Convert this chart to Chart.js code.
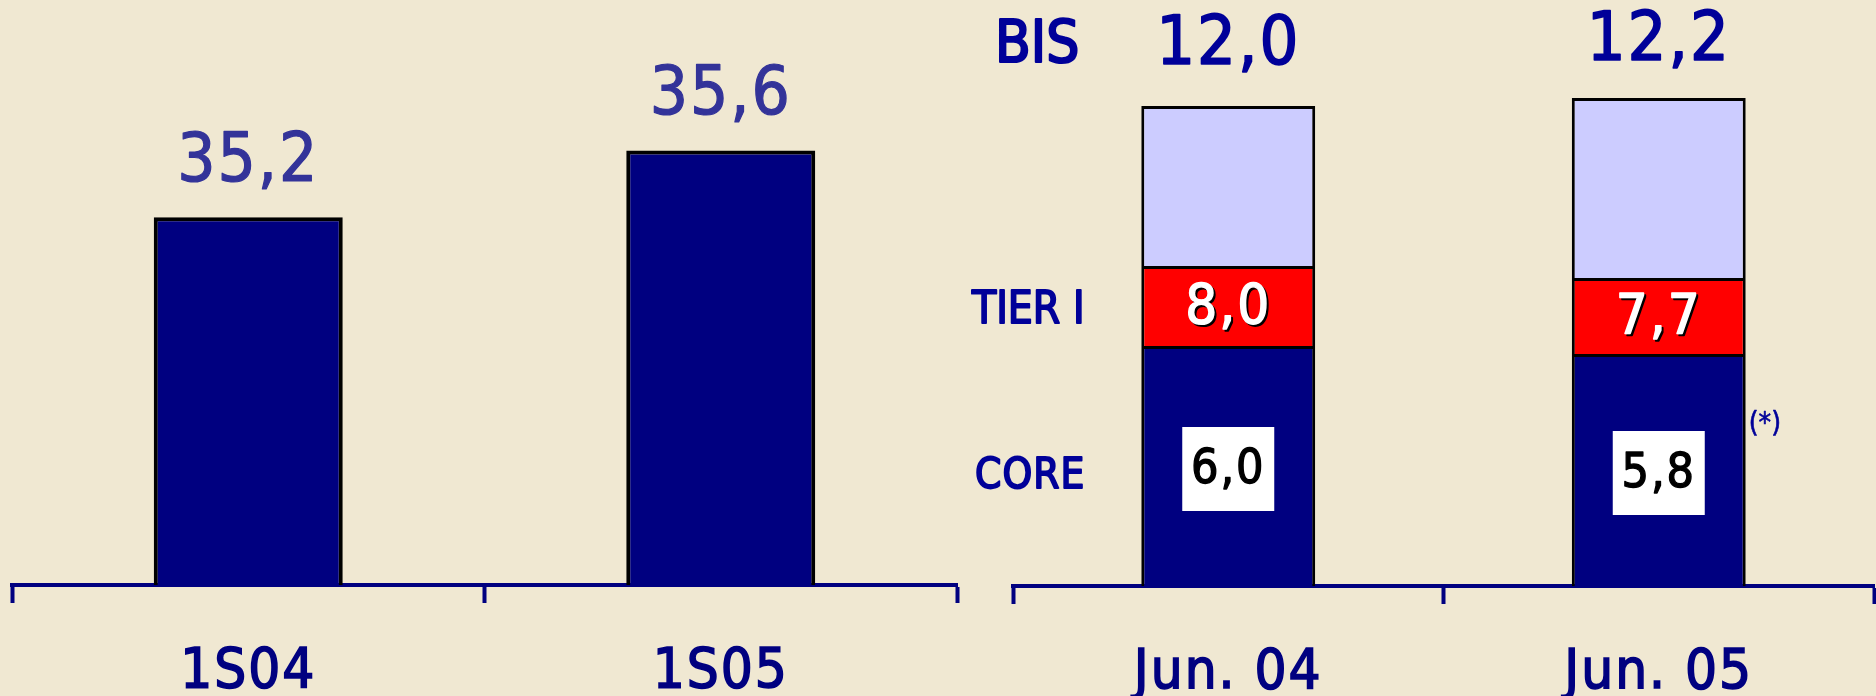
<!DOCTYPE html>
<html>
<head>
<meta charset="utf-8">
<script src="https://cdn.jsdelivr.net/npm/chart.js@4.4.0/dist/chart.umd.min.js"></script>
<style>
    body { margin: 0; background: #F0E8D2; }
    #left-wrap { position: absolute; left: 0; top: 0; width: 960px; height: 696px; }
    #right-wrap { position: absolute; left: 960px; top: 0; width: 916px; height: 696px; }
</style>
</head>
<body>
<div id="left-wrap"><canvas id="left-chart" width="960" height="696"></canvas></div>
<div id="right-wrap"><canvas id="right-chart" width="916" height="696"></canvas></div>
<script>
const FONT = '"DejaVu Sans Condensed", "DejaVu Sans", sans-serif';
const NAVY = '#000080';

// left panel
const leftLabels = ['1S04', '1S05'];
const leftValues = [35.2, 35.6];

// right panel (BIS ratios)
const rightLabels = ['Jun. 04', 'Jun. 05'];
const coreValues = [6.0, 5.8];
const tier1Values = [8.0, 7.7];
const bisValues = [12.0, 12.2];

function fmt(v)
{
    return v.toFixed(1).replace('.', ',');
}

// fill + thin stroke so the glyphs look a bit heavier, like the original
function heavyText(ctx, text, x, y, color, weight)
{
    ctx.fillStyle = color;
    ctx.strokeStyle = color;
    ctx.lineWidth = weight;
    ctx.lineJoin = 'round';
    ctx.strokeText(text, x, y);
    ctx.fillText(text, x, y);
}

const spacing = {
    id: 'spacing',
    beforeDraw(chart) {
        chart.ctx.letterSpacing = '2px';
    }
};

function xAxis(height)
{
    return {
        offset: true,
        afterFit: function(scale) { scale.height = height; },
        border: { display: true, color: NAVY, width: 4 },
        grid: {
            offset: true,
            drawOnChartArea: false,
            drawTicks: true,
            tickLength: 18,
            tickWidth: 4,
            tickColor: NAVY
        },
        ticks: {
            color: NAVY,
            padding: 36,
            textStrokeColor: NAVY,
            textStrokeWidth: 1.6,
            font: { family: FONT, size: 56 }
        }
    };
}

const leftValueLabels = {
    id: 'leftValueLabels',
    afterDatasetsDraw(chart) {
        const ctx = chart.ctx;
        const meta = chart.getDatasetMeta(0);
        ctx.save();
        ctx.font = '67px ' + FONT;
        ctx.textAlign = 'center';
        ctx.textBaseline = 'alphabetic';
        meta.data.forEach((bar, i) => {
            heavyText(ctx, fmt(leftValues[i]), bar.x, bar.y - 36, '#333399', 1.2);
        });
        ctx.restore();
    }
};

const left_ctx = document.getElementById('left-chart').getContext('2d');
const left_chart = new Chart(left_ctx, {
    type: 'bar',
    data: {
        labels: leftLabels,
        datasets: [{
            data: leftValues,
            backgroundColor: NAVY,
            borderColor: '#000000',
            borderWidth: { top: 4, left: 4, right: 4, bottom: 0 },
            barPercentage: 0.4,
            categoryPercentage: 1.0
        }]
    },
    options: {
        responsive: false,
        animation: false,
        layout: { padding: { left: 12, right: 3, top: 0, bottom: 0 } },
        plugins: { legend: { display: false }, tooltip: { enabled: false } },
        scales: {
            x: xAxis(111),
            y: { display: false, min: 33, max: 36.5 }
        }
    },
    plugins: [spacing, leftValueLabels]
});

const rightLabelsPlugin = {
    id: 'rightLabels',
    afterDatasetsDraw(chart) {
        const ctx = chart.ctx;
        const core = chart.getDatasetMeta(0).data;
        const tier = chart.getDatasetMeta(1).data;
        ctx.save();

        // row labels on the left
        ctx.textAlign = 'left';
        ctx.textBaseline = 'alphabetic';
        ctx.letterSpacing = '0px';
        ctx.font = '58px ' + FONT;
        heavyText(ctx, 'BIS', 35, 62, '#000099', 2.2);
        ctx.font = '44px ' + FONT;
        heavyText(ctx, 'TIER I', 12, 323, '#000099', 1.8);
        ctx.letterSpacing = '1px';
        ctx.font = '42px ' + FONT;
        heavyText(ctx, 'CORE', 15, 488, '#000099', 1.8);

        // BIS totals at the top
        ctx.letterSpacing = '2px';
        ctx.textAlign = 'center';
        ctx.font = '68px ' + FONT;
        heavyText(ctx, fmt(bisValues[0]), core[0].x, 64, '#000099', 1.6);
        heavyText(ctx, fmt(bisValues[1]), core[1].x, 60, '#000099', 1.6);

        // tier I values, white with a dark shadow
        ctx.textBaseline = 'middle';
        ctx.font = '56px ' + FONT;
        tier.forEach((bar, i) => {
            const cy = (bar.y + bar.base) / 2 + 2;
            heavyText(ctx, fmt(tier1Values[i]), bar.x + 2, cy + 2, '#000000', 1.4);
            heavyText(ctx, fmt(tier1Values[i]), bar.x, cy, '#ffffff', 1.4);
        });

        // core values in white boxes
        ctx.font = '48px ' + FONT;
        core.forEach((bar, i) => {
            const cy = (bar.y + bar.base) / 2 + 3;
            ctx.fillStyle = '#ffffff';
            ctx.fillRect(bar.x - 46, cy - 42, 92, 84);
            heavyText(ctx, fmt(coreValues[i]), bar.x, cy + 2, '#000000', 1.3);
        });

        // footnote mark next to the second bar
        const last = core[1];
        ctx.textAlign = 'left';
        ctx.textBaseline = 'alphabetic';
        ctx.letterSpacing = '0px';
        ctx.font = '28px ' + FONT;
        heavyText(ctx, '(*)', last.x + last.width / 2 + 3, 432, '#000099', 0.6);

        ctx.restore();
    }
};

const stackBorder = { top: 3, left: 3, right: 3, bottom: 0 };

const right_ctx = document.getElementById('right-chart').getContext('2d');
const right_chart = new Chart(right_ctx, {
    type: 'bar',
    data: {
        labels: rightLabels,
        datasets: [
            {
                label: 'CORE',
                data: coreValues,
                backgroundColor: NAVY,
                borderColor: '#000000',
                borderWidth: stackBorder
            },
            {
                label: 'TIER I',
                data: tier1Values.map((v, i) => v - coreValues[i]),
                backgroundColor: '#FF0000',
                borderColor: '#000000',
                borderWidth: stackBorder
            },
            {
                label: 'BIS',
                data: bisValues.map((v, i) => v - tier1Values[i]),
                backgroundColor: '#CCCCFF',
                borderColor: '#000000',
                borderWidth: stackBorder
            }
        ]
    },
    options: {
        responsive: false,
        animation: false,
        datasets: { bar: { barPercentage: 0.404, categoryPercentage: 1.0 } },
        layout: { padding: { left: 53, right: 2, top: 6, bottom: 0 } },
        plugins: { legend: { display: false }, tooltip: { enabled: false } },
        scales: {
            x: Object.assign(xAxis(110), { stacked: true }),
            y: { display: false, stacked: true, min: 0, max: 14.5 }
        }
    },
    plugins: [spacing, rightLabelsPlugin]
});
</script>
</body>
</html>
